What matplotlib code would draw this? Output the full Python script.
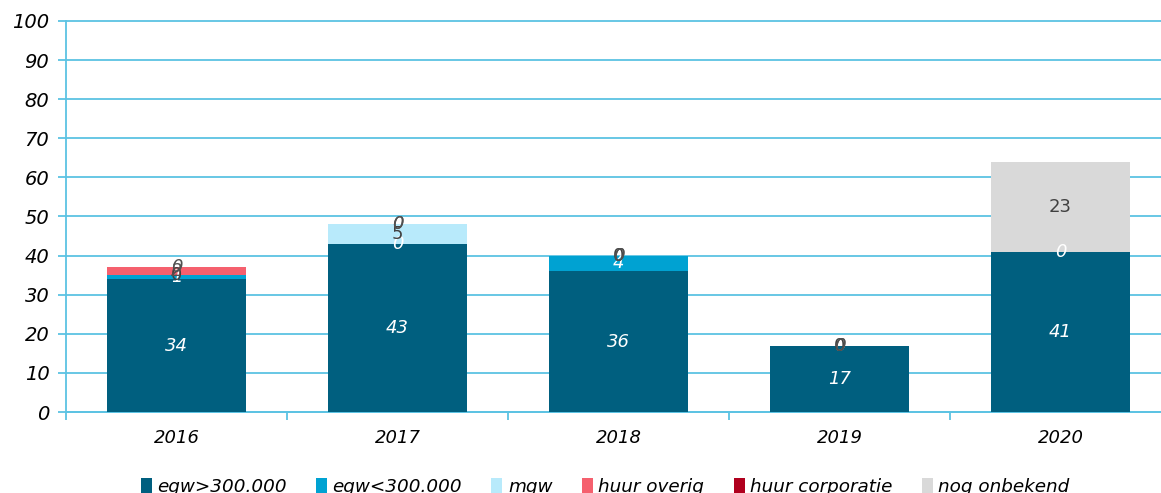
import numpy as np
import matplotlib
matplotlib.use('Agg')
import matplotlib.pyplot as plt

years = ['2016', '2017', '2018', '2019', '2020']
series = ['egw>300.000', 'egw<300.000', 'mgw', 'huur overig', 'huur corporatie', 'nog onbekend']
# None = empty cell (no data label shown)
egw_hoog = [34, 43, 36, 17, 41]
egw_laag = [1, 0, 4, 0, 0]
mgw = [0, 5, 0, 0, None]
huur_overig = [2, 0, 0, 0, None]
huur_corp = [0, 0, 0, 0, None]
onbekend = [None, None, None, None, 23]

colors = ['#005f7f', '#00a2d2', '#b8eafb', '#f5606e', '#b0001e', '#d9d9d9']
lab_colors = ['white', 'white', '#404040', '#505050', '#505050', '#404040']
lab_style = ['italic', 'italic', 'normal', 'italic', 'italic', 'normal']
grid_c = '#5cc3e3'

fig = plt.figure(figsize=(11.61, 4.93), dpi=100)
ax = fig.add_axes([66/1161, 81/493, 1105/1161, 391/493])

x = np.arange(len(years))
bottom = np.zeros(len(years))
for vals, name, c, lc, st in zip([egw_hoog, egw_laag, mgw, huur_overig, huur_corp, onbekend],
                                 series, colors, lab_colors, lab_style):
    shown = [v is not None for v in vals]
    vals = np.array([0 if v is None else v for v in vals], dtype=float)
    ax.bar(x, vals, 0.625, bottom=bottom, color=c, label=name, zorder=3)
    for xi, b, v, s in zip(x, bottom, vals, shown):
        if s:
            ax.text(xi, b + v / 2, '%d' % v, ha='center', va='center', color=lc,
                    fontsize=13, style=st, zorder=4)
    bottom += vals

ax.set_xlim(-0.5, 4.5)
ax.set_ylim(0, 100)
ax.set_yticks(range(0, 101, 10))
ax.set_xticks(x)
ax.set_xticklabels(years)
ax.set_xticks(np.arange(-0.5, 5, 1), minor=True)
ax.yaxis.grid(True, color=grid_c, lw=1.3, zorder=0)
for gl in ax.get_ygridlines():
    gl.set_clip_on(False)
for s in ['top', 'right']:
    ax.spines[s].set_visible(False)
for s in ['left', 'bottom']:
    ax.spines[s].set_color(grid_c)
    ax.spines[s].set_linewidth(1.3)
ax.tick_params(axis='y', color=grid_c, length=6, width=1.3, labelsize=14, pad=6)
ax.tick_params(axis='x', which='major', length=0, labelsize=13, pad=12)
ax.tick_params(axis='x', which='minor', color=grid_c, length=6, width=1.3)
for t in ax.get_xticklabels() + ax.get_yticklabels():
    t.set_style('italic')

fig.legend(loc='center', bbox_to_anchor=(605/1161, 6/493), ncol=6, frameon=False,
           handlelength=0.6, handleheight=0.9, handletextpad=0.3, columnspacing=1.6,
           prop={'size': 13.2, 'style': 'italic'})

fig.savefig('out.png', dpi=100)
